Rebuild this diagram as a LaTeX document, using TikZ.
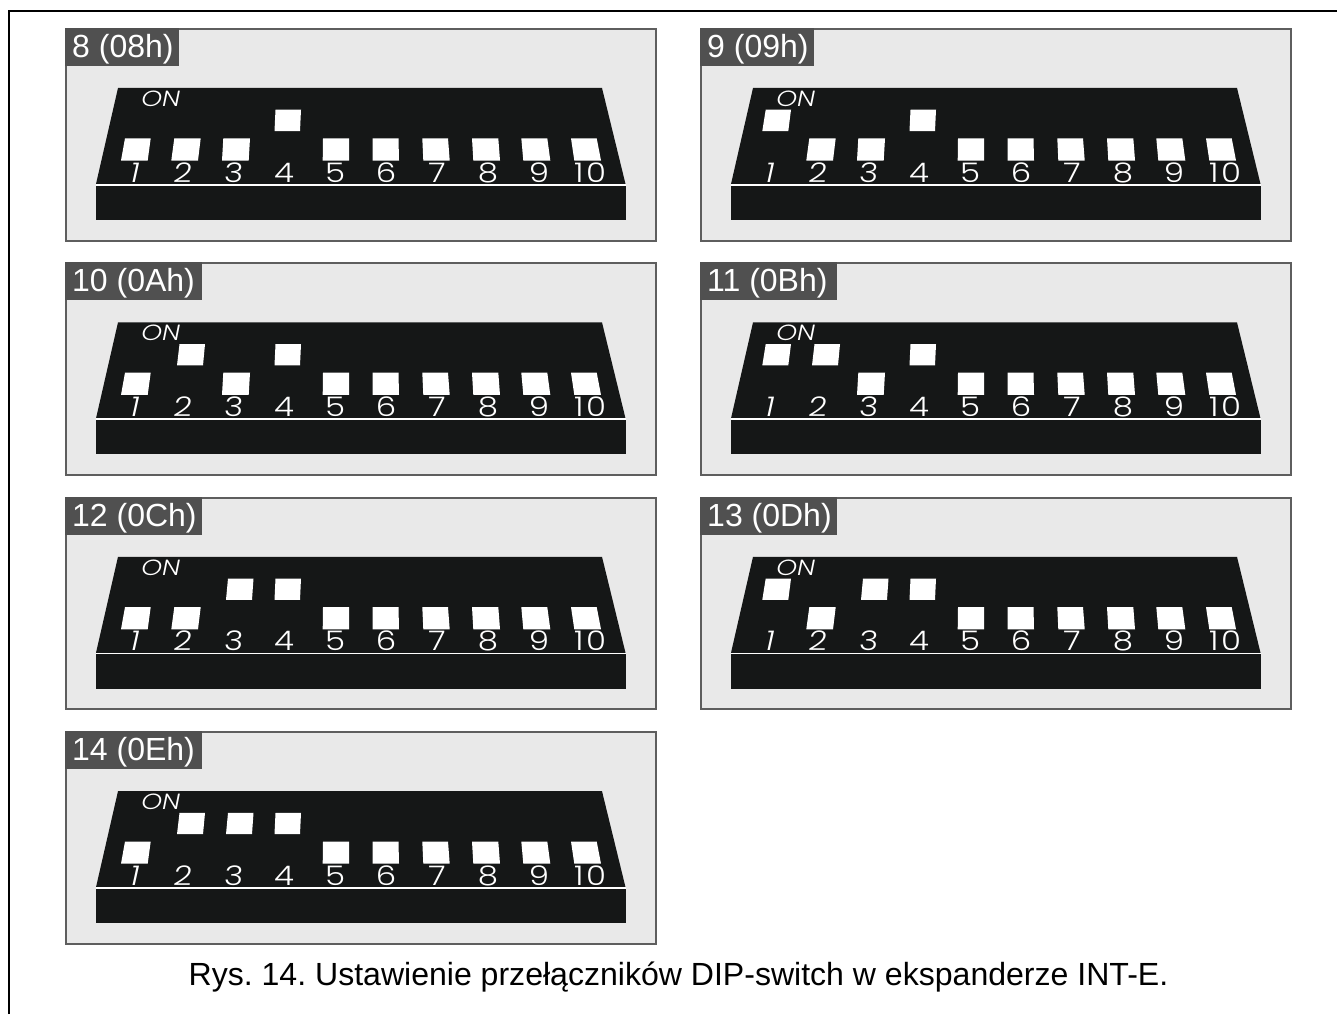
\documentclass[tikz,border=0pt]{standalone}
\usepackage{fontspec}
\setmainfont{Liberation Sans}
\newfontfamily\digfont{Poppins Light}
\frenchspacing
\definecolor{panelgray}{HTML}{E9E9E9}
\definecolor{borderg}{HTML}{5E5E5E}
\definecolor{tabg}{HTML}{505050}
\definecolor{chipk}{HTML}{151717}
\tikzset{
  panelbox/.style={fill=panelgray,draw=borderg,line width=2pt},
  tabbox/.style={fill=tabg},
  tabtext/.style={anchor=base west,inner sep=0pt,text=white,font=\fontsize{32}{32}\selectfont},
  chipbody/.style={fill=chipk},
  chipline/.style={draw=white,line width=1.6pt},
  swbox/.style={fill=white},
  diglab/.style={anchor=base,inner sep=0pt,text=white,transform shape,font=\fontsize{27}{27}\digfont},
  onlab/.style={anchor=base,inner sep=0pt,text=white,transform shape,xslant=0.2,xscale=1.2,font=\fontsize{22}{22}\digfont},
  caption/.style={anchor=base,inner sep=0pt,text=black,font=\fontsize{32.05}{33}\selectfont},
  outer/.style={draw=black,line width=2pt}
}
% one switch: top-left, top-right, bottom-right, bottom-left x; top y, bottom y
\newcommand\swq[6]{\fill[swbox] (#1,#5) -- (#2,#5) -- (#3,#6) -- (#4,#6) -- cycle;}
\newcommand\swl[4]{\swq{#1}{#2}{#3}{#4}{138.3}{160.5}}
\newcommand\swu[4]{\swq{#1}{#2}{#3}{#4}{109.7}{131}}
\newcommand\dig[4]{\node[diglab,xslant=#3,xscale=1.2] (#4) at (#1,182) {#2};}
% panel: dx, dy, tab width, label, four bits, id
\newcommand\dippanel[9]{%
\begin{scope}[shift={(#1,#2)}]
  \draw[panelbox] (66,29) rectangle (656,240.5);
  \fill[tabbox] (65,28) rectangle ++(#3,38);
  \node[tabtext] (tab#9) at (72,57.5) {#4};
  \fill[chipbody] (118,88) -- (602,88) -- (625.5,184) -- (96,184) -- cycle;
  \fill[chipbody] (96,185) rectangle (626,220);
  \draw[chipline] (96,184.8) -- (626,184.8);
  \node[onlab] (on#9) at (159.5,106.5) {ON};
  \ifnum#5=1 \swu{130.7}{156}{153.3}{127.3}\else \swl{125}{150.7}{147.7}{121}\fi
  \ifnum#6=1 \swu{179.5}{205}{203}{177}\else \swl{174.3}{200.7}{198}{171.3}\fi
  \ifnum#7=1 \swu{228}{253.5}{252}{226}\else \swl{223.3}{250}{248.7}{222}\fi
  \ifnum#8=1 \swu{275.5}{301}{300}{274.5}\else \swl{274}{300}{299.5}{273}\fi
  \swl{323}{349}{349}{322.7}
  \swl{372.7}{398.5}{399}{372.7}
  \swl{422.3}{448}{449.7}{423.3}
  \swl{472}{498.3}{500}{473.3}
  \swl{521.3}{547.3}{550.3}{523.3}
  \swl{571}{596.7}{601}{574.3}
  \dig{133}{1}{0.22}{d1#9}
  \dig{182}{2}{0.12}{d2#9}
  \dig{233}{3}{0.08}{d3#9}
  \dig{284}{4}{0}{d4#9}
  \dig{335}{5}{0}{d5#9}
  \dig{386}{6}{0}{d6#9}
  \dig{437}{7}{0}{d7#9}
  \dig{488}{8}{0}{d8#9}
  \dig{539}{9}{0}{d9#9}
  \dig{590}{\addfontfeatures{LetterSpace=8}10}{0}{d10#9}
\end{scope}}
\begin{document}
\begin{tikzpicture}[x=1pt,y=-1pt]
\useasboundingbox (0,0) rectangle (1337,1014);
\draw[outer] (8.5,1014) -- (8.5,11) -- (1337,11);
\dippanel{0}{0}{114}{8 (08h)}{0}{0}{0}{1}{a}
\dippanel{635}{0}{114}{9 (09h)}{1}{0}{0}{1}{b}
\dippanel{0}{234.4}{137}{10 (0Ah)}{0}{1}{0}{1}{c}
\dippanel{635}{234.4}{137}{11 (0Bh)}{1}{1}{0}{1}{d}
\dippanel{0}{468.8}{137}{12 (0Ch)}{0}{0}{1}{1}{e}
\dippanel{635}{468.8}{137}{13 (0Dh)}{1}{0}{1}{1}{f}
\dippanel{0}{703.2}{137}{14 (0Eh)}{0}{1}{1}{1}{g}
\node[caption] (cap) at (678.5,985) {Rys. 14. Ustawienie przełączników DIP-switch w ekspanderze INT-E.};
\end{tikzpicture}
\end{document}
